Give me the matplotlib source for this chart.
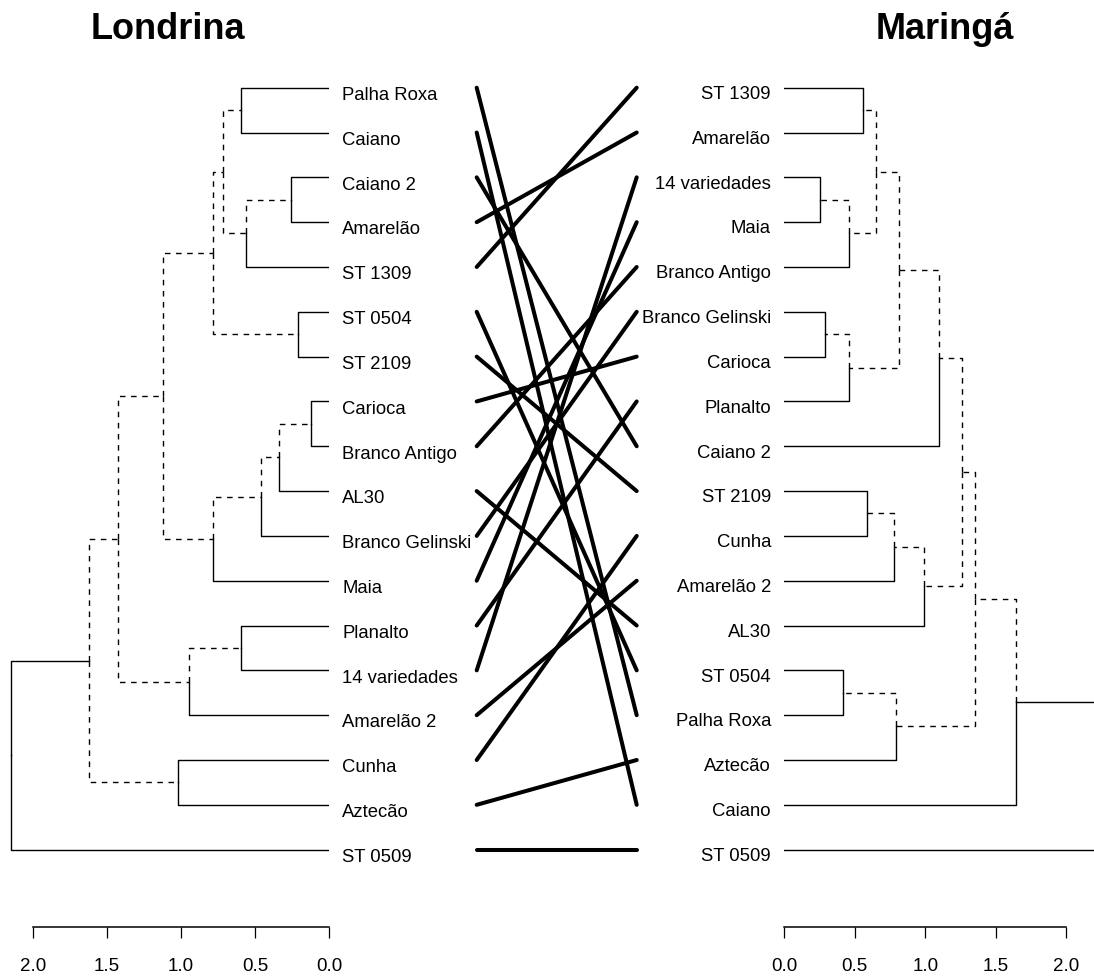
"""Tanglegram: Londrina x Maringá"""
import matplotlib
matplotlib.use('Agg')
import matplotlib.pyplot as plt

plt.rcParams['font.family'] = ['Liberation Sans', 'DejaVu Sans']

# ordem das folhas (de cima para baixo)
londrina_leaves = ['Palha Roxa', 'Caiano', 'Caiano 2', 'Amarelão', 'ST 1309',
                   'ST 0504', 'ST 2109', 'Carioca', 'Branco Antigo', 'AL30',
                   'Branco Gelinski', 'Maia', 'Planalto', '14 variedades',
                   'Amarelão 2', 'Cunha', 'Aztecão', 'ST 0509']
maringa_leaves = ['ST 1309', 'Amarelão', '14 variedades', 'Maia', 'Branco Antigo',
                  'Branco Gelinski', 'Carioca', 'Planalto', 'Caiano 2', 'ST 2109',
                  'Cunha', 'Amarelão 2', 'AL30', 'ST 0504', 'Palha Roxa',
                  'Aztecão', 'Caiano', 'ST 0509']

# fusões: (filho 1, filho 2, altura); inteiros = índice de fusão anterior
londrina_merges = [
    ('Palha Roxa', 'Caiano', 0.597),      # 0
    ('Caiano 2', 'Amarelão', 0.258),      # 1
    (1, 'ST 1309', 0.562),                # 2
    (0, 2, 0.719),                        # 3
    ('ST 0504', 'ST 2109', 0.213),        # 4
    (3, 4, 0.782),                        # 5
    ('Carioca', 'Branco Antigo', 0.123),  # 6
    (6, 'AL30', 0.341),                   # 7
    (7, 'Branco Gelinski', 0.463),        # 8
    (8, 'Maia', 0.782),                   # 9
    (5, 9, 1.119),                        # 10
    ('Planalto', '14 variedades', 0.597), # 11
    (11, 'Amarelão 2', 0.948),            # 12
    (10, 12, 1.423),                      # 13
    ('Cunha', 'Aztecão', 1.020),          # 14
    (13, 14, 1.618),                      # 15
    (15, 'ST 0509', 2.148),               # 16
]
maringa_merges = [
    ('ST 1309', 'Amarelão', 0.558),            # 0
    ('14 variedades', 'Maia', 0.253),          # 1
    (1, 'Branco Antigo', 0.459),               # 2
    (0, 2, 0.650),                             # 3
    ('Branco Gelinski', 'Carioca', 0.291),     # 4
    (4, 'Planalto', 0.459),                    # 5
    (3, 5, 0.816),                             # 6
    (6, 'Caiano 2', 1.095),                    # 7
    ('ST 2109', 'Cunha', 0.584),               # 8
    (8, 'Amarelão 2', 0.778),                  # 9
    (9, 'AL30', 0.993),                        # 10
    (7, 10, 1.260),                            # 11
    ('ST 0504', 'Palha Roxa', 0.418),          # 12
    (12, 'Aztecão', 0.790),                    # 13
    (11, 13, 1.350),                           # 14
    (14, 'Caiano', 1.643),                     # 15
    (15, 'ST 0509', 2.240),                    # 16
]

axis_ticks = [0.0, 0.5, 1.0, 1.5, 2.0]

W, H = 1094, 978
LEAF_Y0, LEAF_DY = 88.7, 44.82   # posição vertical das folhas (px)
TOP_PX, BOT_PX = 60, 928


def rect(x0, y0, x1, y1):
    return [x0 / W, 1 - y1 / H, (x1 - x0) / W, (y1 - y0) / H]


def ylim_idx():
    return ((BOT_PX - LEAF_Y0) / LEAF_DY, (TOP_PX - LEAF_Y0) / LEAF_DY)


def clusters(leaves, merges):
    sets = []
    for a, b, _ in merges:
        sa = sets[a] if isinstance(a, int) else {a}
        sb = sets[b] if isinstance(b, int) else {b}
        sets.append(frozenset(sa | sb))
    return sets


def draw_tree(ax, leaves, merges, other_sets):
    # ramos cujo agrupamento não existe na outra árvore ficam tracejados
    own = clusters(leaves, merges)
    pos = {name: i for i, name in enumerate(leaves)}
    ys, hs = [], []
    for a, b, h in merges:
        ya = ys[a] if isinstance(a, int) else pos[a]
        yb = ys[b] if isinstance(b, int) else pos[b]
        ys.append((ya + yb) / 2)
        hs.append(h)
    for k, (a, b, h) in enumerate(merges):
        for c in (a, b):
            if isinstance(c, int):
                yc, hc = ys[c], hs[c]
                dashed = own[c] not in other_sets
            else:
                yc, hc = pos[c], 0.0
                dashed = False
            style = dict(color='black', lw=1.0)
            if dashed:
                style.update(ls=(0, (4, 4)))
            ax.plot([h, h, hc], [ys[k], yc, yc], **style)


set_l = set(clusters(londrina_leaves, londrina_merges))
set_m = set(clusters(maringa_leaves, maringa_merges))

fig = plt.figure(figsize=(W / 100, H / 100), dpi=100)

# árvore da esquerda
px_l, x0_l, xmax_l = 148.3, 329.3, 2.2
ax_l = fig.add_axes(rect(x0_l - px_l * xmax_l, TOP_PX, x0_l, BOT_PX))
draw_tree(ax_l, londrina_leaves, londrina_merges, set_m)
ax_l.set_xlim(xmax_l, 0)
for i, name in enumerate(londrina_leaves):
    ax_l.annotate(name, xy=(0, i), xytext=(9.4, -8.1), textcoords='offset points',
                  ha='left', va='baseline', fontsize=13.3, annotation_clip=False)

# árvore da direita
px_r, x0_r = 141.0, 784.3
xmax_r = (W - x0_r) / px_r
ax_r = fig.add_axes(rect(x0_r, TOP_PX, W, BOT_PX))
draw_tree(ax_r, maringa_leaves, maringa_merges, set_l)
ax_r.set_xlim(0, xmax_r)
for i, name in enumerate(maringa_leaves):
    ax_r.annotate(name, xy=(0, i), xytext=(-9.6, -7.4), textcoords='offset points',
                  ha='right', va='baseline', fontsize=13.3, annotation_clip=False)

for ax in (ax_l, ax_r):
    ax.set_ylim(*ylim_idx())
    ax.set_yticks([])
    for s in ('top', 'left', 'right'):
        ax.spines[s].set_visible(False)
    ax.spines['bottom'].set_bounds(0, 2)
    ax.spines['bottom'].set_linewidth(1.1)
    ax.set_xticks(axis_ticks)
    ax.set_xticklabels([f'{t:.1f}' for t in axis_ticks])
    ax.tick_params(axis='x', direction='out', length=7.9, width=0.9,
                   pad=14, labelsize=13.5)
    ax.patch.set_visible(False)

# linhas de ligação entre as folhas
ax_m = fig.add_axes(rect(476.7, TOP_PX, 636.7, BOT_PX))
ax_m.set_xlim(0, 1)
ax_m.set_ylim(*ylim_idx())
ax_m.axis('off')
for i, name in enumerate(londrina_leaves):
    j = maringa_leaves.index(name)
    ax_m.plot([0, 1], [i, j], color='black', lw=2.9,
              solid_capstyle='round', clip_on=False)

fig.text(168 / W, 1 - 39 / H, 'Londrina', ha='center', va='baseline',
         fontsize=26, fontweight='bold')
fig.text(944.5 / W, 1 - 39 / H, 'Maringá', ha='center', va='baseline',
         fontsize=26, fontweight='bold')

fig.savefig('out.png', dpi=100)
